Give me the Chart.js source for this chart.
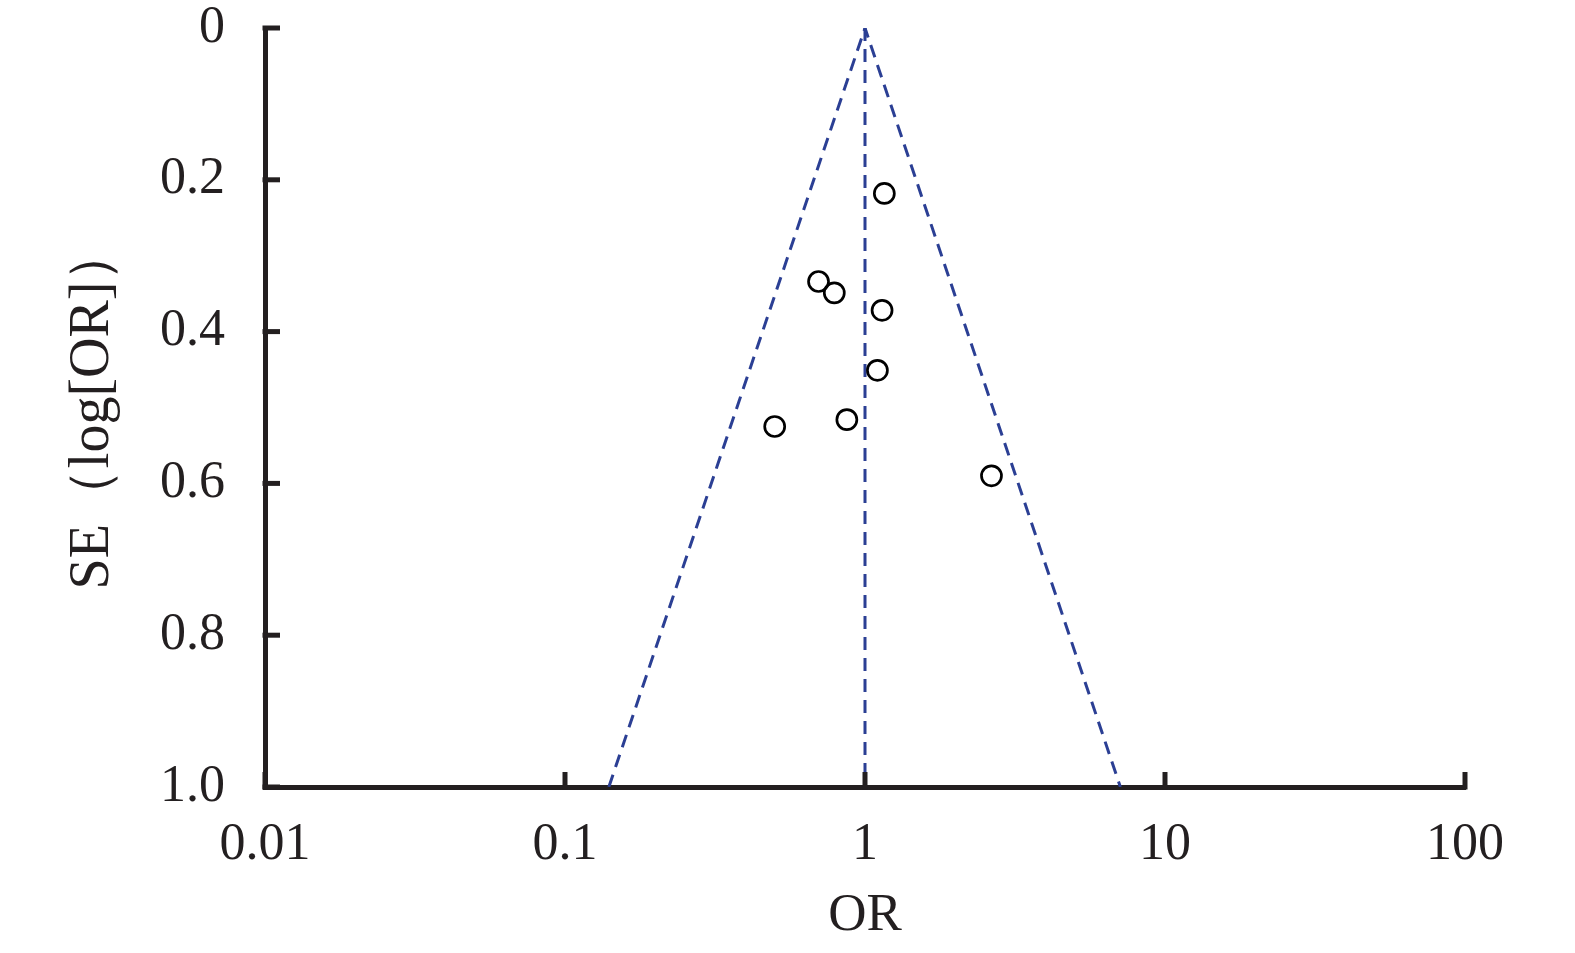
<!DOCTYPE html>
<html>
<head>
<meta charset="utf-8">
<script src="https://cdn.jsdelivr.net/npm/chart.js@4.4.1/dist/chart.umd.min.js"></script>
<style>
  html, body { margin: 0; padding: 0; background: #fff; }
  #wrap { width: 1575px; height: 953px; }
</style>
</head>
<body>
<div id="wrap"><canvas id="funnel" width="1575" height="953"></canvas></div>
<script>
// study estimates
const studyOR = [1.16, 0.70, 0.79, 1.14, 1.10, 0.87, 0.50, 2.64];
const studySE = [0.218, 0.334, 0.349, 0.372, 0.451, 0.516, 0.525, 0.590];

// pooled estimate and 95% limits at SE = 1
const pooledOR = 1;
const funnelLowOR = 0.14;
const funnelHighOR = 7.1;

const xTicks = [0.01, 0.1, 1, 10, 100];
const yTicks = [0, 0.2, 0.4, 0.6, 0.8, 1.0];

const axisColor = '#231f20';
const funnelColor = '#2b3f94';
const serif = '"Liberation Serif", "Times New Roman", serif';

// inward tick marks, drawn on the library's own scales
const innerTicks = {
    id: 'innerTicks',
    afterDraw(chart) {
        const ctx = chart.ctx;
        const xs = chart.scales.x, ys = chart.scales.y;
        const len = 15;
        ctx.save();
        ctx.strokeStyle = axisColor;
        ctx.lineWidth = 5;
        ctx.lineCap = 'butt';
        xTicks.forEach(v => {
            const px = xs.getPixelForValue(v);
            ctx.beginPath();
            ctx.moveTo(px, ys.bottom + 2.5);
            ctx.lineTo(px, ys.bottom - len);
            ctx.stroke();
        });
        yTicks.forEach(v => {
            const py = ys.getPixelForValue(v);
            ctx.beginPath();
            ctx.moveTo(xs.left - 2.5, py);
            ctx.lineTo(xs.left + len, py);
            ctx.stroke();
        });
        ctx.restore();
    }
};

const points = studyOR.map((v, i) => ({ x: v, y: studySE[i] }));

const dashed = {
    showLine: true,
    borderColor: funnelColor,
    borderWidth: 3,
    borderDash: [13, 8],
    pointRadius: 0,
    fill: false,
    order: 1
};

new Chart(document.getElementById('funnel'), {
    type: 'scatter',
    data: {
        datasets: [
            {
                label: 'studies',
                data: points,
                pointStyle: 'circle',
                pointRadius: 10,
                pointBorderWidth: 2.7,
                pointBorderColor: '#000',
                pointBackgroundColor: 'rgba(255,255,255,0)',
                showLine: false,
                order: 0
            },
            Object.assign({
                label: 'funnel',
                data: [
                    { x: funnelLowOR, y: 1 },
                    { x: pooledOR, y: 0 },
                    { x: funnelHighOR, y: 1 }
                ]
            }, dashed),
            Object.assign({
                label: 'pooled',
                data: [{ x: pooledOR, y: 0 }, { x: pooledOR, y: 1 }]
            }, dashed)
        ]
    },
    options: {
        responsive: false,
        animation: false,
        layout: { padding: { left: 0, top: 28, right: 110, bottom: 0 } },
        plugins: {
            legend: { display: false },
            tooltip: { enabled: false }
        },
        scales: {
            x: {
                type: 'logarithmic',
                min: 0.01,
                max: 100,
                afterBuildTicks: s => { s.ticks = xTicks.map(v => ({ value: v })); },
                afterFit: s => { s.height = 166; s.paddingLeft = 0; s.paddingRight = 0; },
                grid: { display: false, drawTicks: false },
                border: { display: true, color: axisColor, width: 5 },
                ticks: {
                    color: axisColor,
                    font: { family: serif, size: 52 },
                    padding: 27,
                    maxRotation: 0,
                    autoSkip: false,
                    callback: v => String(v)
                },
                title: {
                    display: true,
                    text: 'OR',
                    color: axisColor,
                    font: { family: serif, size: 53 },
                    padding: { top: 0, bottom: 5 }
                }
            },
            y: {
                type: 'linear',
                reverse: true,
                min: 0,
                max: 1,
                afterBuildTicks: s => { s.ticks = yTicks.map(v => ({ value: v })); },
                afterFit: s => { s.width = 265; s.paddingTop = 0; s.paddingBottom = 0; },
                grid: { display: false, drawTicks: false },
                border: { display: true, color: axisColor, width: 5 },
                ticks: {
                    color: axisColor,
                    font: { family: serif, size: 52 },
                    padding: 40,
                    autoSkip: false,
                    callback: v => (v === 0 ? '0' : v.toFixed(1))
                },
                title: {
                    display: true,
                    text: 'SE（log[OR]）',
                    color: axisColor,
                    font: { family: serif, size: 56 },
                    padding: { top: 60, bottom: 0 }
                }
            }
        }
    },
    plugins: [innerTicks]
});
</script>
</body>
</html>
